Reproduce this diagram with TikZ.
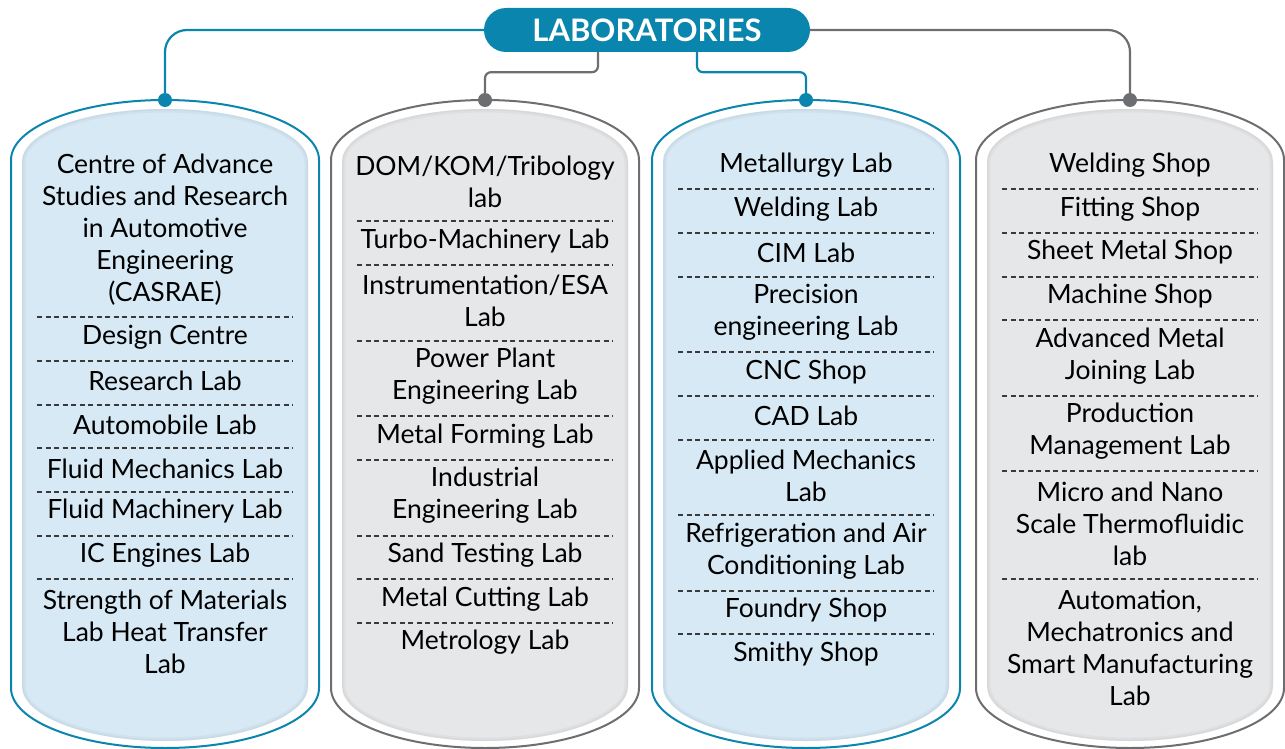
\documentclass[tikz,border=0pt]{standalone}
\usepackage{fontspec}
\setmainfont{Lato}
\usetikzlibrary{calc}
\definecolor{labteal}{HTML}{0A85AE}
\definecolor{labgray}{HTML}{6D6E71}
\definecolor{fillblue}{HTML}{D6E9F4}
\definecolor{fillgray}{HTML}{E6E7E8}
\definecolor{sepcol}{HTML}{3A3A3A}
\newcommand\labinner[1]{(#1-143,162) .. controls (#1-143,132) and (#1-79,109) .. (#1,109) .. controls (#1+79,109) and (#1+143,132) .. (#1+143,162) -- (#1+143,686) .. controls (#1+143,716) and (#1+79,741) .. (#1,741) .. controls (#1-79,741) and (#1-143,716) .. (#1-143,686) -- cycle}
\newcommand\labcol[3]{%
  \draw[#2, line width=2pt, fill=white] (#1-154,160) .. controls (#1-154,127) and (#1-85,100) .. (#1,100) .. controls (#1+85,100) and (#1+154,127) .. (#1+154,160) -- (#1+154,688) .. controls (#1+154,721) and (#1+85,748) .. (#1,748) .. controls (#1-85,748) and (#1-154,721) .. (#1-154,688) -- cycle;
  \fill[#3] \labinner{#1};
  \begin{scope}
    \clip \labinner{#1};
    \draw[#3!82!black, line width=7pt, opacity=0.18] \labinner{#1};
    \draw[#3!82!black, line width=3pt, opacity=0.18] \labinner{#1};
  \end{scope}
}
\newcommand\labsep[2]{\draw[sep] (#1-128,#2) -- (#1+128,#2);}
\begin{document}
\begin{tikzpicture}[x=1pt,y=-1pt,
  item/.style={align=center, font=\fontsize{26.5}{32}\selectfont, inner sep=0pt, text=black, yshift=-1.5pt},
  sep/.style={draw=sepcol, line width=1.1pt, dash pattern=on 5pt off 3.5pt},
  titlebox/.style={fill=labteal, text=white, rounded corners=22pt, minimum width=326pt, minimum height=44pt, font=\fontsize{31}{32}\selectfont\bfseries, inner sep=0pt},
  dot/.style={circle, inner sep=0pt, minimum size=14pt},
  tconn/.style={draw=labteal, line width=2.2pt},
  gconn/.style={draw=labgray, line width=2.2pt}]
\useasboundingbox (0,0) rectangle (1285,749);
% columns
\labcol{165}{labteal}{fillblue}
\labcol{485}{labgray}{fillgray}
\labcol{806}{labteal}{fillblue}
\labcol{1130}{labgray}{fillgray}
% title
\node[titlebox] (title) at (647,30) {LABORATORIES};
\node[dot, fill=labteal] (d1) at (165,100) {};
\node[dot, fill=labgray] (d2) at (485,100) {};
\node[dot, fill=labteal] (d3) at (806,100) {};
\node[dot, fill=labgray] (d4) at (1130,100) {};
\draw[tconn, rounded corners=22pt] (title.west) -| (d1);
\draw[gconn, rounded corners=22pt] (title.east) -| (d4);
\draw[gconn, rounded corners=6pt] ([xshift=-49pt]title.south) -- ++(0,20) -| (d2);
\draw[tconn, rounded corners=6pt] ([xshift=50pt]title.south) -- ++(0,20) -| (d3);
% column 1
\node[item] (c1a) at (165,228) {Centre of Advance\\Studies and Research\\in Automotive\\Engineering\\(CASRAE)};
\node[item] (c1b) at (165,336) {Design Centre};
\node[item] (c1c) at (165,379) {Research Lab};
\node[item] (c1d) at (165,423) {Automobile Lab};
\node[item] (c1e) at (165,467) {Fluid Mechanics Lab};
\node[item] (c1f) at (165,510) {Fluid Machinery Lab};
\node[item] (c1g) at (165,554) {IC Engines Lab};
\node[item] (c1h) at (165,630) {Strength of Materials\\Lab Heat Transfer\\Lab};
\foreach \y in {317,361,405,448,492,536,579} {\labsep{165}{\y}}
% column 2
\node[item] (c2a) at (485,180) {DOM/KOM/Tribology\\lab};
\node[item] (c2b) at (485,240) {Turbo-Machinery Lab};
\node[item] (c2c) at (485,299) {Instrumentation/ESA\\Lab};
\node[item] (c2d) at (485,375) {Power Plant\\Engineering Lab};
\node[item] (c2e) at (485,435) {Metal Forming Lab};
\node[item] (c2f) at (485,494) {Industrial\\Engineering Lab};
\node[item] (c2g) at (485,554) {Sand Testing Lab};
\node[item] (c2h) at (485,598) {Metal Cutting Lab};
\node[item] (c2i) at (485,641) {Metrology Lab};
\foreach \y in {221,265,341,416,460,536,579,623} {\labsep{485}{\y}}
% column 3
\node[item] (c3a) at (806,164) {Metallurgy Lab};
\node[item] (c3b) at (806,208) {Welding Lab};
\node[item] (c3c) at (806,251) {CIM Lab};
\node[item] (c3d) at (806,311) {Precision\\engineering Lab};
\node[item] (c3e) at (806,371) {CNC Shop};
\node[item] (c3f) at (806,414) {CAD Lab};
\node[item] (c3g) at (806,474) {Applied Mechanics\\Lab};
\node[item] (c3h) at (806,550) {Refrigeration and Air\\Conditioning Lab};
\node[item] (c3i) at (806,609) {Foundry Shop};
\node[item] (c3j) at (806,653) {Smithy Shop};
\foreach \y in {189,233,277,352,396,440,515,591,634} {\labsep{806}{\y}}
% column 4
\node[item] (c4a) at (1130,164) {Welding Shop};
\node[item] (c4b) at (1130,208) {Fitting Shop};
\node[item] (c4c) at (1130,251) {Sheet Metal Shop};
\node[item] (c4d) at (1130,295) {Machine Shop};
\node[item] (c4e) at (1130,355) {Advanced Metal\\Joining Lab};
\node[item] (c4f) at (1130,430) {Production\\Management Lab};
\node[item] (c4g) at (1130,522) {Micro and Nano\\Scale Thermofluidic\\lab};
\node[item] (c4h) at (1130,646) {Automation,\\Mechatronics and\\Smart Manufacturing\\Lab};
\foreach \y in {189,233,277,320,396,471,579} {\labsep{1130}{\y}}
\end{tikzpicture}
\end{document}
